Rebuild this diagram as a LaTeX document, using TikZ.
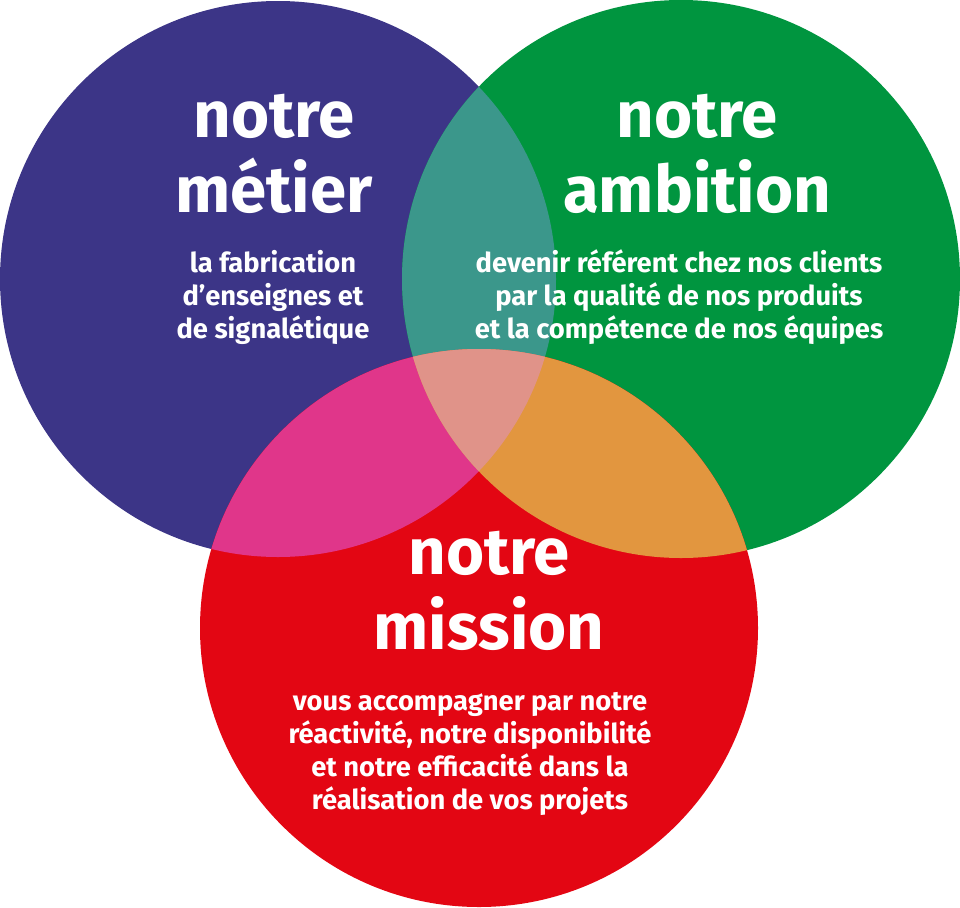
\documentclass[tikz,border=0pt]{standalone}
\usepackage{fontspec}
\setmainfont{Fira Sans}
\usetikzlibrary{positioning}
\definecolor{MetierBlue}{HTML}{3C3587}
\definecolor{AmbitionGreen}{HTML}{00953F}
\definecolor{MissionRed}{HTML}{E30613}
\definecolor{BlendTeal}{HTML}{3B978B}
\definecolor{BlendPink}{HTML}{E0368A}
\definecolor{BlendOrange}{HTML}{E2963F}
\definecolor{BlendCore}{HTML}{E09389}
\newcommand{\metierDisc}{(278,279) circle (208.5pt)}
\newcommand{\ambitionDisc}{(681,279) circle (209.25pt)}
\newcommand{\missionDisc}{(479,628) circle (209.25pt)}

\begin{document}
\begin{tikzpicture}[x=0.75pt,y=-0.75pt,
 title/.style={text=white,inner sep=0pt,align=center,anchor=base,
 font=\bfseries\fontsize{49}{56.25}\selectfont},
 blurb/.style={text=white,inner sep=0pt,align=center,anchor=base,
 font=\bfseries\fontsize{20.5}{24.75}\selectfont}]
\useasboundingbox (0,0) rectangle (960,907);
% the three discs
\fill[MetierBlue] \metierDisc;
\fill[AmbitionGreen] \ambitionDisc;
\fill[MissionRed] \missionDisc;
% overlaps
\begin{scope}
 \clip \metierDisc;
 \fill[BlendTeal] \ambitionDisc;
 \fill[BlendPink] \missionDisc;
\end{scope}
\begin{scope}
 \clip \ambitionDisc;
 \fill[BlendOrange] \missionDisc;
 \clip \missionDisc;
 \fill[BlendCore] \metierDisc;
\end{scope}
% texts (anchored on the last line)
\node[title] (metier) at (274,212) {notre\\métier};
\node[blurb] (metierText) at (273,338) {la fabrication\\d’enseignes et\\de signalétique};
\node[title] (ambition) at (697,212) {notre\\ambition};
\node[blurb] (ambitionText) at (679,338) {devenir référent chez nos clients\\par la qualité de nos produits\\et la compétence de nos équipes};
\node[title] (mission) at (489,649) {notre\\mission};
\node[blurb] (missionText) at (470,809) {vous accompagner par notre\\réactivité, notre disponibilité\\et notre efficacité dans la\\réalisation de vos projets};
\end{tikzpicture}
\end{document}
